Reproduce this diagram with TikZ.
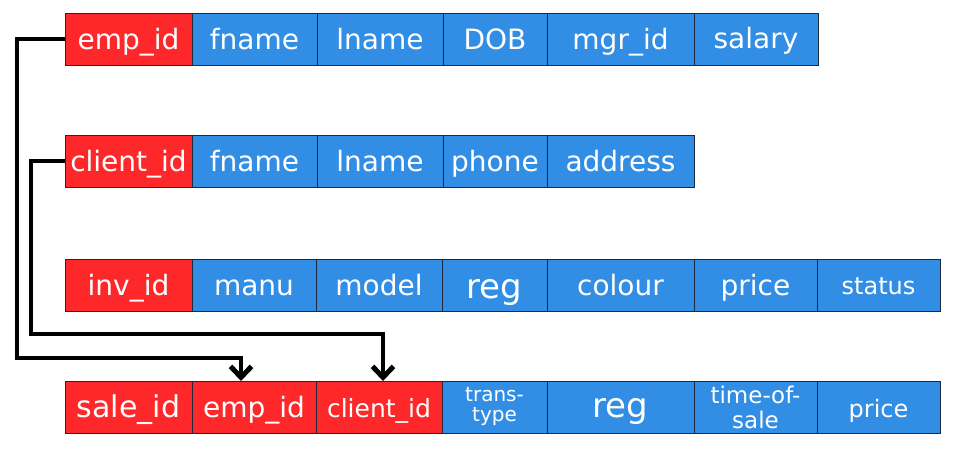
\documentclass[tikz,border=0pt]{standalone}
\usepackage{fontspec}
\setmainfont{DejaVu Sans}
\usepackage{xcolor}
\usepackage{tikz}
\usetikzlibrary{positioning,arrows.meta}

\definecolor{keyred}{RGB}{254,40,42}
\definecolor{attrblue}{RGB}{50,142,228}
\definecolor{cellline}{RGB}{28,40,60}

\begin{document}
\begin{tikzpicture}[
    node distance=0pt,
    cell/.style={rectangle, draw=cellline, line width=1pt, outer sep=0pt, inner sep=0pt,
                 minimum height=52pt, text height=20pt, text depth=0pt,
                 text=white, align=center, font=\fontsize{28}{30}\selectfont},
    twoline/.style={text height={}, text depth={}},
    key/.style={cell, fill=keyred},
    attr/.style={cell, fill=attrblue},
    link/.style={line width=4.5pt, -{Straight Barb[length=11pt,width=21pt,line width=5pt]}},
    >=Latex
]
\useasboundingbox (0,0) rectangle (971pt,-450pt);

% Employee table
\node[key, minimum width=127pt, anchor=north west] (emp) at (65pt,-13pt) {emp\_id};
\node[attr, minimum width=125pt, right=of emp] (fname1) {fname};
\node[attr, minimum width=126pt, right=of fname1] (lname1) {lname};
\node[attr, minimum width=104pt, right=of lname1] (dob) {DOB};
\node[attr, minimum width=147pt, right=of dob] (mgr) {mgr\_id};
\node[attr, minimum width=124pt, right=of mgr, text height=18pt] (salary) {salary};

% Client table
\node[key, minimum width=127pt, below=70pt of emp] (client) {client\_id};
\node[attr, minimum width=125pt, right=of client] (fname2) {fname};
\node[attr, minimum width=126pt, right=of fname2] (lname2) {lname};
\node[attr, minimum width=104pt, right=of lname2] (phone) {phone};
\node[attr, minimum width=147pt, right=of phone] (address) {address};

% Inventory table
\node[key, minimum width=127pt, below=72pt of client] (inv) {inv\_id};
\node[attr, minimum width=124pt, right=of inv] (manu) {manu};
\node[attr, minimum width=126pt, right=of manu] (model) {model};
\node[attr, minimum width=105pt, right=of model, text height=26pt, font=\fontsize{34}{36}\selectfont] (reg1) {reg};
\node[attr, minimum width=147pt, right=of reg1] (colour) {colour};
\node[attr, minimum width=123pt, right=of colour] (price1) {price};
\node[attr, minimum width=123pt, right=of price1, text height=18pt, font=\fontsize{24}{26}\selectfont] (status) {status};

% Sale table
\node[key, minimum width=127pt, below=70pt of inv, font=\fontsize{30}{32}\selectfont] (sale) {sale\_id};
\node[key, minimum width=124pt, right=of sale] (empfk) {emp\_id};
\node[key, minimum width=126pt, right=of empfk, font=\fontsize{25}{27}\selectfont] (clientfk) {client\_id};
\node[attr, twoline, minimum width=105pt, right=of clientfk, font=\fontsize{20}{20}\selectfont] (trans) {trans-\\type};
\node[attr, minimum width=147pt, right=of trans, font=\fontsize{34}{36}\selectfont] (reg2) {reg};
\node[attr, twoline, minimum width=123pt, right=of reg2, font=\fontsize{23}{25}\selectfont] (tos) {time-of-\\sale};
\node[attr, minimum width=123pt, right=of tos, font=\fontsize{24}{26}\selectfont] (price2) {price};

% Foreign keys into sale
\draw[link] (emp.west) -| ++(-48pt,-319pt) -| ([xshift=-13pt]empfk.north);
\draw[link] (client.west) -| ++(-34pt,-173pt) -| ([xshift=4pt]clientfk.north);

\end{tikzpicture}
\end{document}
